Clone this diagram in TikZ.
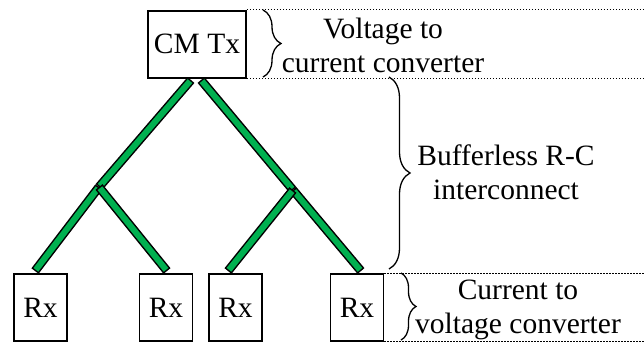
\documentclass[tikz,border=0pt]{standalone}
\usepackage{fontspec}
\setmainfont{Liberation Serif}
\usepackage{tikz}
\usetikzlibrary{decorations.pathreplacing}
\definecolor{wiregreen}{RGB}{0,176,80}

\begin{document}
\begin{tikzpicture}[x=1pt, y=1pt,
    box/.style={draw, line width=1.8pt, fill=white, inner sep=0pt, font=\fontsize{29.5}{34}\selectfont},
    caption/.style={align=center, font=\fontsize{29.5}{34}\selectfont},
    wireout/.style={line width=9pt, black},
    wirein/.style={line width=6pt, wiregreen, shorten <=1.5pt, shorten >=1.5pt},
    guide/.style={line width=1pt, dash pattern=on 1.5pt off 1.5pt},
    curly/.style={decorate, decoration={brace, amplitude=#1}, line width=1.3pt},
    curly/.default=16pt]
    \useasboundingbox (0,0) rectangle (644,-343);
    \coordinate (edge) at (644,0);
    \coordinate (t1) at (191,-80);
    \coordinate (t2) at (201,-80);
    \coordinate (j1) at (99,-187);
    \coordinate (j2) at (293,-190);
    \coordinate (b1) at (35,-271);
    \coordinate (b2) at (167,-271);
    \coordinate (b3) at (228,-271);
    \coordinate (b4) at (361,-271);
    \foreach \a/\b in {t1/j1, t2/j2, j1/b1, j2/b4, j1/b2, j2/b3} {
        \draw[wireout] (\a) -- (\b);
        \draw[wirein] (\a) -- (\b);
    }
    \node[box, minimum width=98pt, minimum height=67pt] (tx) at (197,-44.2) {CM Tx};
    \node[box, minimum width=53pt, minimum height=67pt] (rx1) at (40.5,-307.5) {Rx};
    \node[box, minimum width=53pt, minimum height=67pt] (rx2) at (166,-307.5) {Rx};
    \node[box, minimum width=53pt, minimum height=67pt] (rx3) at (235.5,-307.5) {Rx};
    \node[box, minimum width=53pt, minimum height=67pt] (rx4) at (357,-307.5) {Rx};
    \draw[guide] (tx.north east) -- (tx.north east -| edge);
    \draw[guide] (tx.south east) -- (tx.south east -| edge);
    \draw[guide] (rx4.north east) -- (rx4.north east -| edge);
    \draw[guide] (rx4.south east) -- (rx4.south east -| edge);
    \coordinate (c1a) at (263,-10);
    \coordinate (c1b) at (263,-77);
    \coordinate (c2a) at (389,-77);
    \coordinate (c2b) at (389,-269);
    \coordinate (c3a) at (401,-273);
    \coordinate (c3b) at (401,-340);
    \draw[curly=18pt] (c1a) -- (c1b);
    \draw[curly=21pt] (c2a) -- (c2b);
    \draw[curly=15pt] (c3a) -- (c3b);
    \node[caption] (vtoc) at (383,-45) {Voltage to\\current converter};
    \node[caption] (rc) at (506,-172) {Bufferless R-C\\interconnect};
    \node[caption] (ctov) at (518,-310) {Current to\\voltage converter};
\end{tikzpicture}
\end{document}
